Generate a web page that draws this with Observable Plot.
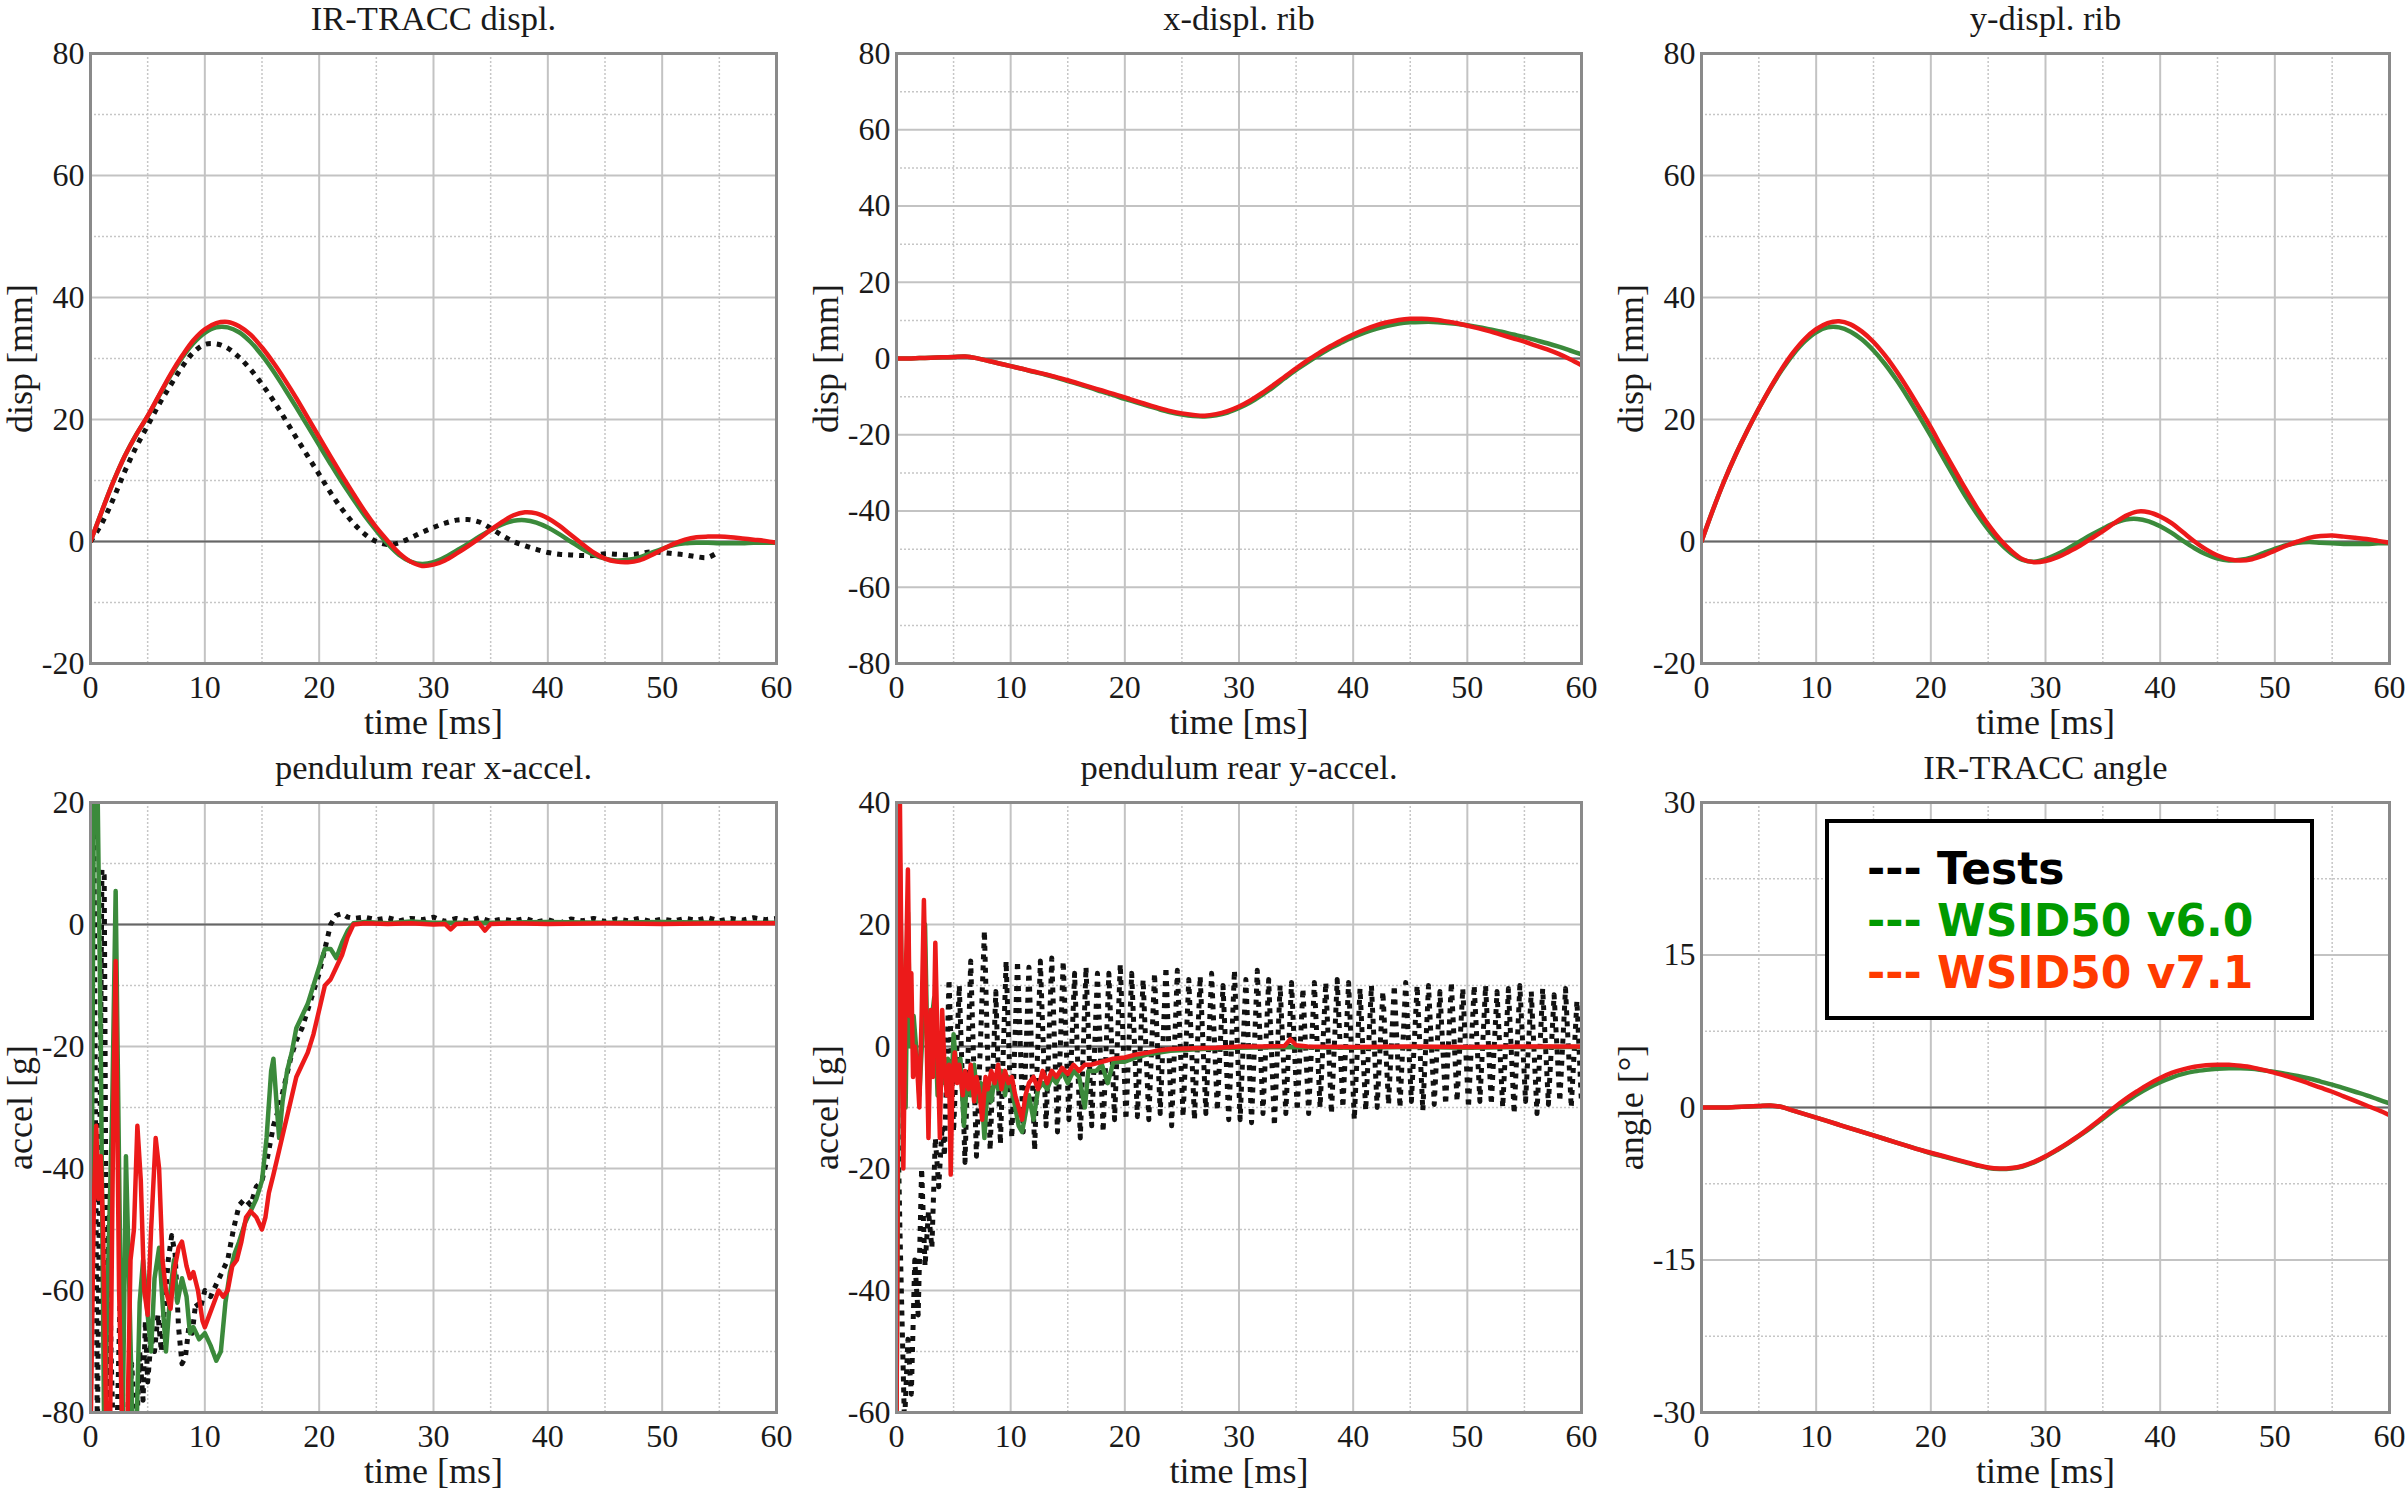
<!DOCTYPE html>
<html>
<head>
<meta charset="utf-8">
<script src="https://cdn.jsdelivr.net/npm/d3@7"></script>
<script src="https://cdn.jsdelivr.net/npm/@observablehq/plot@0.6"></script>
<style>
html, body { margin: 0; padding: 0; background: #fff; }
#page { position: relative; width: 2407px; height: 1491px; overflow: hidden; background: #fff; }
#page svg { position: absolute; }
#legend { position: absolute; left: 1825px; top: 819px; width: 489px; height: 201px; box-sizing: border-box;
  border: 4.5px solid #000; background: #fff; padding: 20px 0 0 38px;
  font-family: "DejaVu Sans", Verdana, sans-serif; font-weight: bold; font-size: 44px; line-height: 52px; white-space: pre; }
</style>
</head>
<body>
<div id="page"></div>
<script>
// ---------------- data ----------------
const titles = ["IR-TRACC displ.", "x-displ. rib", "y-displ. rib", "pendulum rear x-accel.", "pendulum rear y-accel.", "IR-TRACC angle"];
const yLabels = ["disp [mm]", "disp [mm]", "disp [mm]", "accel [g]", "accel [g]", "angle [°]"];
const xLabel = "time [ms]";
const xTicks = [0, 10, 20, 30, 40, 50, 60];
const xMinor = [5, 15, 25, 35, 45, 55];
const yTicks = [[-20, 0, 20, 40, 60, 80], [-80, -60, -40, -20, 0, 20, 40, 60, 80], [-20, 0, 20, 40, 60, 80], [-80, -60, -40, -20, 0, 20], [-60, -40, -20, 0, 20, 40], [-30, -15, 0, 15, 30]];
const yMinor = [[-10, 10, 30, 50, 70], [-70, -50, -30, -10, 10, 30, 50, 70], [-10, 10, 30, 50, 70], [-70, -50, -30, -10, 10], [-50, -30, -10, 10, 30], [-22.5, -7.5, 7.5, 22.5]];
const legendNames = ["Tests", "WSID50 v6.0", "WSID50 v7.1"];

const tFull = [0,1,2,3,4,5,6,7,8,9,10,11,12,13,14,15,16,17,18,19,20,21,22,23,24,25,26,27,28,29,30,31,32,33,34,35,36,37,38,39,40,41,42,43,44,45,46,47,48,49,50,51,52,53,54,55,56,57,58,59,60];
const tTest1 = [0,1,2,3,4,5,6,7,8,9,10,11,12,13,14,15,16,17,18,19,20,21,22,23,24,25,26,27,28,29,30,31,32,33,34,35,36,37,38,39,40,41,42,43,44,45,46,47,48,49,50,51,52,53,54,55];

// IR-TRACC displ.
const p1Test = [0,3,7,11.5,15.5,19,22.5,25.6,28.6,31, 32.3,32.4,31.7,30.2,28.2,25.8,23.1,20.1,17,14, 11,8,5.3,3,1.2,0,-0.5,-0.2,0.6,1.5, 2.3,3,3.5,3.6,3.2,2.2,1,0,-0.7,-1.3, -1.8,-2.1,-2.2,-2.3,-2.3,-2,-2.1,-2.2,-2,-1.7, -1.8,-2,-2.2,-2.5,-2.6,-1.6];
const p1V60 = [0,5,9.8,14,17.5,20.5,23.9,27.2,30.1,32.5, 34.2,35.1,35.1,34.3,32.7,30.5,27.9,25,22,18.9, 15.8,12.7,9.7,6.9,4.2,1.8,-0.4,-2.2,-3.3,-3.7, -3.4,-2.6,-1.5,-0.4,0.8,1.9,2.8,3.4,3.5,3.1, 2.3,1.2,0,-1.2,-2.2,-2.8,-3.1,-3,-2.6,-1.9, -1.2,-0.6,-0.3,-0.2,-0.2,-0.3,-0.3,-0.3,-0.2,-0.2, -0.2];
const p1V71 = [0,5,9.8,14,17.5,20.6,24,27.4,30.4,33, 34.8,35.8,36,35.3,33.9,31.8,29.3,26.5,23.5,20.3, 17.1,13.9,10.8,7.8,4.9,2.3,0.1,-1.9,-3.3,-4, -3.8,-3.1,-2,-0.8,0.5,1.9,3.2,4.3,4.8,4.6, 3.8,2.6,1.1,-0.4,-1.8,-2.8,-3.3,-3.4,-3.1,-2.3, -1.3,-0.4,0.3,0.7,0.8,0.8,0.7,0.5,0.3,0.1, -0.2];

// x-displ. rib
const p2V60 = [0,0,0.1,0.2,0.3,0.4,0.5,0.1,-0.6,-1.3, -2,-2.7,-3.5,-4.2,-5,-5.9,-6.8,-7.7,-8.7,-9.6, -10.6,-11.5,-12.4,-13.3,-14.1,-14.7,-15.1,-15.2,-14.9,-14.2, -13,-11.5,-9.6,-7.5,-5.2,-3,-1,0.9,2.7,4.2, 5.6,6.8,7.8,8.6,9.2,9.5,9.6,9.6,9.4,9.1, 8.7,8.2,7.6,7,6.3,5.6,4.8,4,3.1,2.1, 1.1];
const p2V71 = [0,0,0.1,0.2,0.3,0.4,0.5,0.1,-0.6,-1.3, -2,-2.7,-3.4,-4.1,-4.9,-5.7,-6.6,-7.5,-8.4,-9.3, -10.2,-11.2,-12.1,-13,-13.8,-14.4,-14.8,-15,-14.6,-13.8, -12.6,-11,-9.1,-7,-4.8,-2.6,-0.5,1.4,3.2,4.8, 6.3,7.6,8.7,9.5,10.1,10.4,10.4,10.2,9.8,9.3, 8.6,7.9,7.1,6.2,5.3,4.4,3.4,2.4,1.2,-0.2, -1.8];

// y-displ. rib
const p3V60 = [0,5.2,10,14.3,18.2,21.8,25.1,28.1,30.7,32.8, 34.3,35.1,35.1,34.4,33.1,31.3,29.1,26.5,23.6,20.5, 17.3,14,10.7,7.5,4.6,2,-0.2,-1.9,-3,-3.3, -2.9,-2.1,-1.1,0,1.1,2.1,3,3.6,3.7,3.3, 2.5,1.4,0.1,-1.1,-2.1,-2.8,-3.1,-3,-2.6,-1.9, -1.2,-0.6,-0.2,-0.1,-0.2,-0.3,-0.4,-0.4,-0.4,-0.3, -0.3];
const p3V71 = [0,5.2,10,14.3,18.2,21.8,25.2,28.3,31,33.2, 34.8,35.8,36.1,35.6,34.4,32.7,30.5,27.9,25,21.9, 18.7,15.3,12,8.7,5.6,2.8,0.4,-1.5,-2.9,-3.4, -3.2,-2.6,-1.7,-0.7,0.5,1.7,3,4.2,4.9,4.8, 4.1,3,1.5,0,-1.3,-2.3,-2.9,-3.1,-2.9,-2.3, -1.5,-0.7,0,0.6,0.9,1,0.8,0.6,0.4,0.1, -0.2];

// pendulum rear x-accel. [t, value]
const p4Test = [[0,22],[0.3,15],[0.6,-85],[0.8,-40],[1.0,9],[1.2,8],[1.45,-85],[1.6,-48],[1.8,-70],[2.0,-85],[2.3,-85],[2.6,-60],[2.9,-85],[3.3,-85],[3.6,-72],[4.0,-85],[4.3,-70],[4.6,-78],[4.8,-65],[5.0,-75],[5.3,-68],[5.6,-70],[5.9,-64],[6.2,-70],[6.5,-62],[6.8,-55],[7.1,-51],[7.4,-54],[7.7,-66],[8.0,-72],[8.3,-71],[8.6,-66],[8.9,-67],[9.2,-62],[9.6,-63],[10,-60],[10.5,-61],[11,-59],[11.5,-57],[12,-55],[12.5,-50],[13,-46],[13.5,-45],[14,-46],[14.5,-43],[15,-42],[15.5,-38],[16,-33],[16.5,-30],[17,-26],[17.5,-22],[18,-19],[18.5,-17],[19,-14],[19.5,-11],[20,-8],[20.5,-4],[21,0],[21.5,1.5],[22,1.8],[22.5,1.2],[23,1.0],[24,1.2],[25,0.8],[26,1.1],[27,0.6],[28,1.0],[29,0.8],[30,1.2],[31,0.5],[32,1.0],[33,0.6],[34,1.1],[35,0.5],[36,0.9],[37,0.6],[38,1.0],[39,0.4],[40,0.8],[41,0.2],[42,0.9],[43,0.6],[44,1.0],[45,0.5],[46,0.9],[47,0.6],[48,1.0],[49,0.5],[50,0.9],[51,0.6],[52,1.0],[53,0.7],[54,1.1],[55,0.6],[56,1.0],[57,0.7],[58,1.1],[59,0.8],[60,1.0]];
const p4V60 = [[0,-85],[0.3,25],[0.6,25],[0.9,-20],[1.2,-85],[1.5,-60],[1.9,-30],[2.2,5.5],[2.5,-40],[2.8,-85],[3.1,-38],[3.4,-60],[3.7,-85],[4.0,-85],[4.3,-62],[4.6,-55],[5.0,-64],[5.3,-70],[5.6,-58],[6.0,-53],[6.3,-62],[6.6,-70],[7.0,-60],[7.3,-55],[7.6,-62],[8.0,-58],[8.4,-61],[8.7,-67],[9.0,-66],[9.5,-68],[10,-67],[10.5,-69],[11,-71.5],[11.4,-70],[11.8,-62],[12.2,-57],[12.6,-54],[13,-52],[13.5,-49],[14,-47],[14.5,-45],[15,-42],[15.4,-35],[15.8,-24],[16,-22],[16.3,-30],[16.5,-35],[16.8,-29],[17.2,-24],[17.6,-21],[18,-17],[18.5,-15],[19,-13],[19.5,-10],[20,-7],[20.5,-4],[21,-4],[21.5,-5.5],[22,-3],[22.5,-1],[23,0.2],[24,0.4],[26,0.2],[28,0.5],[30,0.3],[35,0.3],[40,0.4],[45,0.3],[50,0.4],[55,0.3],[60,0.3]];
const p4V71 = [[0,-85],[0.3,-45],[0.5,-33],[0.7,-45],[0.9,-38],[1.1,-50],[1.4,-85],[1.7,-85],[2.0,-30],[2.2,-6],[2.5,-60],[2.8,-85],[3.2,-85],[3.5,-55],[3.8,-50],[4.1,-33],[4.4,-42],[4.7,-60],[5.0,-64],[5.3,-50],[5.7,-35],[6.0,-40],[6.3,-55],[6.6,-60],[7.0,-63],[7.3,-57],[7.7,-53],[8.0,-52],[8.4,-56],[8.7,-58],[9.0,-57],[9.4,-60],[9.8,-65],[10,-66],[10.4,-64],[10.8,-62],[11.2,-60],[11.6,-61],[12,-60],[12.4,-56],[12.8,-55],[13.2,-52],[13.6,-48],[14,-47],[14.5,-48],[15,-50],[15.3,-48],[15.6,-44],[16,-41],[16.5,-37],[17,-33],[17.5,-29],[18,-25],[18.5,-23],[19,-21],[19.5,-18],[20,-14],[20.5,-10],[21,-9],[21.5,-7],[22,-5],[22.5,-2],[23,0],[24,0.2],[26,0.1],[28,0.2],[30,0],[31,0.1],[31.5,-0.8],[32,0.1],[34,0.2],[34.5,-1],[35,0.1],[37,0.2],[40,0.1],[45,0.2],[50,0.1],[55,0.2],[60,0.2]];

// pendulum rear y-accel. [t, value]
const p5Test = [[0,0],[0.3,-30],[0.7,-62],[1.0,-48],[1.3,-57],[1.6,-35],[1.9,-44],[2.2,-20],[2.5,-36],[2.8,-27],[3.1,-33],[3.4,-15],[3.7,-23],[4.0,-13],[4.2,-18],[4.6,11],[5.0,-14],[5.5,10],[6.0,-19],[6.5,14],[7.0,-18],[7.7,19],[8.2,-17],[8.7,9],[9.1,-16],[9.6,14],[10.1,-15],[10.6,14],[11.1,-14],[11.6,13],[12.1,-17],[12.6,14],[13.1,-13],[13.6,14.5],[14.1,-14],[14.6,14],[15.1,-12],[15.6,12],[16.1,-15],[16.6,13],[17.1,-13],[17.6,12],[18.1,-14],[18.6,12],[19.1,-12],[19.6,13.5],[20.1,-12],[20.6,12],[21.1,-11.5],[21.6,11],[22.1,-12],[22.6,12],[23.1,-11],[23.6,13],[24.1,-13],[24.6,12.5],[25.1,-11.5],[25.6,11],[26.1,-12],[26.6,11.5],[27.1,-11],[27.6,12],[28.1,-10.5],[28.6,10],[29.1,-12],[29.6,12.5],[30.1,-12],[30.6,11],[31.1,-12.5],[31.6,12.5],[32.1,-11],[32.6,11],[33.1,-13],[33.6,10],[34.1,-11],[34.6,10.5],[35.1,-10.5],[35.6,9.5],[36.1,-11],[36.6,10.5],[37.1,-10],[37.6,10.5],[38.1,-11],[38.6,11],[39.1,-10],[39.6,10.5],[40.1,-12],[40.6,9.5],[41.1,-10.5],[41.6,10],[42.1,-10],[42.6,9],[43.1,-9.5],[43.6,10],[44.1,-10],[44.6,10.5],[45.1,-9],[45.6,10],[46.1,-10.5],[46.6,10],[47.1,-9.5],[47.6,9],[48.1,-9.5],[48.6,10.5],[49.1,-9],[49.6,9.5],[50.1,-10],[50.6,10],[51.1,-9],[51.6,10],[52.1,-9.5],[52.6,9],[53.1,-10],[53.6,9.5],[54.1,-11],[54.6,10],[55.1,-9],[55.6,9],[56.1,-11],[56.6,9.5],[57.1,-9.5],[57.6,8.5],[58.1,-9],[58.6,9.5],[59.1,-10],[59.6,7.5],[60,-9.5]];
const p5V60 = [[0,-60],[0.3,30],[0.5,5],[0.8,-10],[1.0,22],[1.2,0],[1.5,5],[1.8,-2],[2.0,-8],[2.3,3],[2.5,20],[2.8,-10],[3.0,3],[3.3,8],[3.6,-8],[3.9,0],[4.2,-6],[4.5,-2],[4.8,-8],[5.0,2],[5.3,-5],[5.6,-2],[5.9,-13],[6.2,-5],[6.5,-8],[6.8,-3],[7.1,-9],[7.4,-6],[7.7,-15],[8.0,-6],[8.3,-9],[8.6,-5],[8.9,-7],[9.2,-4],[9.5,-8],[9.8,-5],[10.1,-7],[10.4,-10],[10.7,-13],[11.0,-14],[11.3,-11],[11.6,-8],[12.0,-12],[12.4,-7],[12.8,-6],[13.2,-7],[13.6,-5],[14.0,-6],[14.5,-4],[15.0,-6],[15.5,-4],[16.0,-5],[16.5,-10],[16.8,-4],[17.5,-4],[18.0,-3],[18.5,-6],[19.0,-2.5],[20,-2.5],[21,-1.8],[22,-1.3],[23,-1],[24,-0.7],[26,-0.5],[28,-0.3],[30,-0.2],[34,-0.1],[40,-0.2],[45,-0.1],[50,-0.2],[55,-0.1],[60,-0.1]];
const p5V71 = [[0,-65],[0.15,0],[0.3,40],[0.45,10],[0.6,-20],[0.8,10],[1.0,29],[1.15,5],[1.3,12],[1.45,-5],[1.6,0],[1.8,-3],[2.0,-10],[2.2,5],[2.4,24],[2.6,5],[2.8,-15],[3.0,6],[3.2,-5],[3.4,17],[3.6,0],[3.8,-15],[4.0,6],[4.2,-3],[4.4,-8],[4.6,-3],[4.75,-21],[4.9,-5],[5.1,-1],[5.3,-6],[5.5,-3],[5.8,-8],[6.0,-4],[6.3,-7],[6.5,-3],[6.8,-9],[7.0,-5],[7.3,-8],[7.5,-12],[7.8,-5],[8.0,-7],[8.3,-4],[8.6,-6],[8.9,-3],[9.2,-7],[9.5,-4],[9.8,-6],[10.1,-5],[10.4,-8],[10.7,-10],[11.0,-12],[11.3,-8],[11.6,-6],[12.0,-5],[12.4,-7],[12.8,-4],[13.2,-6],[13.6,-4],[14.0,-5],[14.5,-3.5],[15.0,-4.5],[15.5,-3],[16.0,-4],[16.5,-3],[17,-3],[18,-2.5],[19,-2],[20,-1.8],[21,-1.3],[22,-1],[23,-0.6],[24,-0.4],[26,-0.3],[28,-0.2],[30,0],[32,0],[34,0.1],[34.5,1.2],[35,0.2],[36,0],[40,-0.1],[45,0],[50,-0.1],[55,0],[60,0]];

// IR-TRACC angle
const p6V60 = [0,0,0,0.05,0.1,0.15,0.2,0.05,-0.3,-0.65, -1,-1.35,-1.7,-2.05,-2.4,-2.75,-3.1,-3.45,-3.8,-4.15, -4.5,-4.8,-5.1,-5.4,-5.7,-5.95,-6.05,-6,-5.8,-5.4, -4.85,-4.2,-3.5,-2.75,-1.95,-1.1,-0.25,0.55,1.3,1.95, 2.5,2.95,3.3,3.55,3.7,3.8,3.85,3.85,3.8,3.65, 3.5,3.3,3.1,2.85,2.55,2.25,1.9,1.55,1.2,0.8, 0.4];
const p6V71 = [0,0,0,0.05,0.1,0.15,0.2,0.05,-0.3,-0.65, -1,-1.35,-1.7,-2.05,-2.4,-2.75,-3.1,-3.45,-3.8,-4.15, -4.45,-4.75,-5.05,-5.35,-5.65,-5.9,-6,-5.95,-5.75,-5.35, -4.8,-4.15,-3.45,-2.7,-1.85,-0.95,0,0.85,1.6,2.3, 2.9,3.4,3.75,4,4.15,4.2,4.2,4.1,3.95,3.7, 3.4,3.1,2.75,2.35,1.95,1.55,1.1,0.65,0.2,-0.25, -0.75];

// ---------------- layout / style ----------------
const COLORS = { test: "#111111", v60: "#3b8a3b", v71: "#ec1a1a" };
const LEGEND_COLORS = ["#000000", "#009a00", "#ff3a00"];
const cols = [{ x0: 0, w: 803, ml: 90, mr: 27 }, { x0: 803, w: 802, ml: 93, mr: 24 }, { x0: 1605, w: 802, ml: 96, mr: 18 }];
const rowsL = [{ y0: 0, h: 745, mt: 53, mb: 82 }, { y0: 745, h: 746, mt: 57, mb: 79 }];

const fromArrays = (ts, vs) => ts.map((t, i) => ({ t, v: vs[i] }));
const fromPairs = (pairs) => pairs.map(([t, v]) => ({ t, v }));

const panels = [
  { test: fromArrays(tTest1, p1Test), v60: fromArrays(tFull, p1V60), v71: fromArrays(tFull, p1V71), curve: "catmull-rom" },
  { v60: fromArrays(tFull, p2V60), v71: fromArrays(tFull, p2V71), curve: "catmull-rom" },
  { v60: fromArrays(tFull, p3V60), v71: fromArrays(tFull, p3V71), curve: "catmull-rom" },
  { test: fromPairs(p4Test), v60: fromPairs(p4V60), v71: fromPairs(p4V71), curve: "linear" },
  { test: fromPairs(p5Test), v60: fromPairs(p5V60), v71: fromPairs(p5V71), curve: "linear" },
  { v60: fromArrays(tFull, p6V60), v71: fromArrays(tFull, p6V71), curve: "catmull-rom" }
];

const page = document.getElementById("page");
const SERIF = "'Liberation Serif', 'Times New Roman', serif";

panels.forEach((p, i) => {
  const c = cols[i % 3], r = rowsL[Math.floor(i / 3)];
  const yt = yTicks[i];
  const lines = [];
  if (p.test) lines.push(Plot.line(p.test, { x: "t", y: "v", stroke: COLORS.test, strokeWidth: 5, strokeDasharray: "5,6", strokeLinecap: "butt", curve: p.curve, clip: true }));
  lines.push(Plot.line(p.v60, { x: "t", y: "v", stroke: COLORS.v60, strokeWidth: 4.5, curve: p.curve, clip: true }));
  lines.push(Plot.line(p.v71, { x: "t", y: "v", stroke: COLORS.v71, strokeWidth: 4.5, curve: p.curve, clip: true }));
  const svg = Plot.plot({
    width: c.w, height: r.h,
    marginLeft: c.ml, marginRight: c.mr, marginTop: r.mt, marginBottom: r.mb,
    style: { fontFamily: SERIF, fontSize: "32px", color: "#1a1a1a", background: "transparent", overflow: "visible" },
    x: { domain: [0, 60] },
    y: { domain: [yt[0], yt[yt.length - 1]] },
    marks: [
      Plot.gridX({ ticks: xMinor, stroke: "#c6c6c6", strokeOpacity: 1, strokeWidth: 1.5, strokeDasharray: "2,2" }),
      Plot.gridY({ ticks: yMinor[i], stroke: "#c6c6c6", strokeOpacity: 1, strokeWidth: 1.5, strokeDasharray: "2,2" }),
      Plot.gridX({ ticks: xTicks, stroke: "#c3c3c3", strokeOpacity: 1, strokeWidth: 2 }),
      Plot.gridY({ ticks: yt, stroke: "#c3c3c3", strokeOpacity: 1, strokeWidth: 2 }),
      Plot.ruleY([0], { stroke: "#666", strokeWidth: 1.8 }),
      ...lines,
      Plot.frame({ stroke: "#8a8a8a", strokeWidth: 3 }),
      Plot.axisX({ ticks: xTicks, tickSize: 0, tickPadding: 12, fontSize: 32, label: null, tickFormat: (d) => String(d) }),
      Plot.axisY({ ticks: yt, tickSize: 0, tickPadding: 6, fontSize: 32, label: null, tickFormat: (d) => String(d) }),
      Plot.text([titles[i]], { text: (d) => d, frameAnchor: "top", dy: -35, fontSize: 34.5, lineAnchor: "middle", textAnchor: "middle" }),
      Plot.text([xLabel], { text: (d) => d, frameAnchor: "bottom", dy: 59, fontSize: 36, lineAnchor: "middle", textAnchor: "middle" }),
      Plot.text([yLabels[i]], { text: (d) => d, frameAnchor: "left", dx: -70, rotate: -90, fontSize: 36, lineAnchor: "middle", textAnchor: "middle" })
    ]
  });
  svg.style.left = c.x0 + "px";
  svg.style.top = r.y0 + "px";
  page.appendChild(svg);
});

// legend (HTML overlay, as in the reference)
const legend = document.createElement("div");
legend.id = "legend";
legendNames.forEach((name, k) => {
  const line = document.createElement("div");
  line.style.color = LEGEND_COLORS[k];
  line.textContent = "--- " + name;
  legend.appendChild(line);
});
page.appendChild(legend);
</script>
</body>
</html>
